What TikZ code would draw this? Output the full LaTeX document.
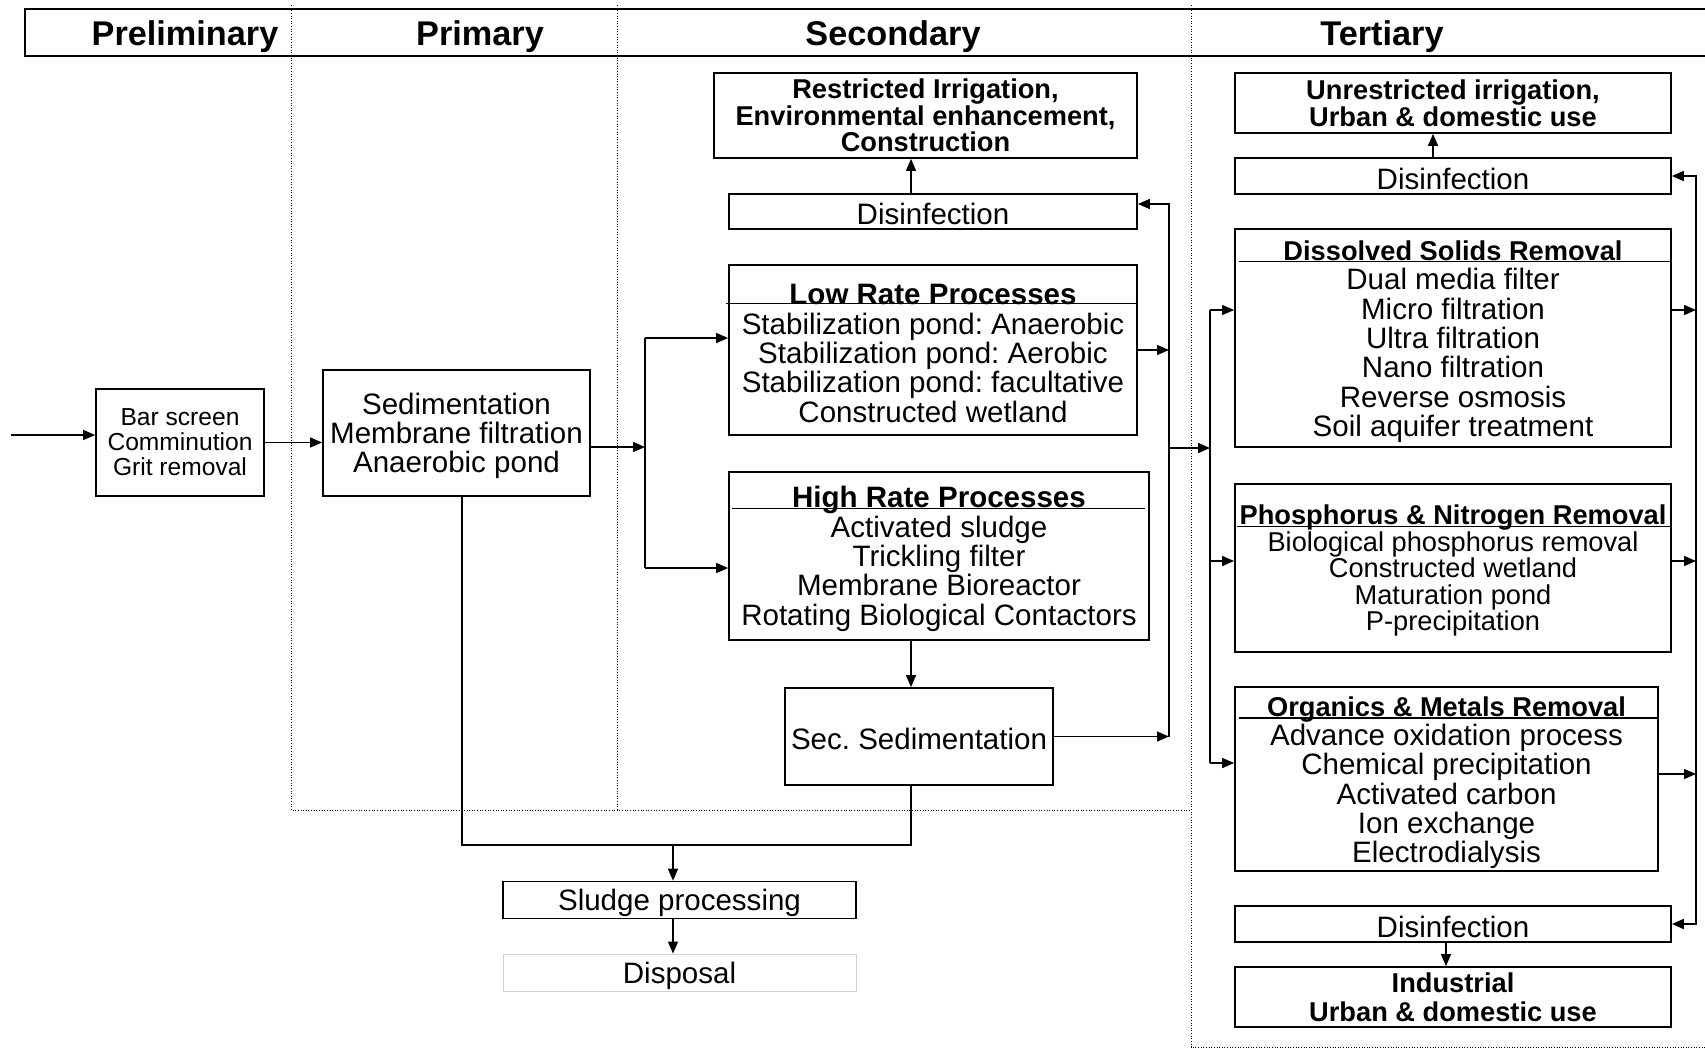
\documentclass[tikz,border=0pt]{standalone}
\usepackage{fontspec}
\setmainfont{Liberation Sans}
\usetikzlibrary{arrows.meta,calc}

\newcommand{\subhead}[1]{{\bfseries\fontsize{15.5}{15.1}\selectfont #1}}
\newcommand{\toppad}{\rule{0pt}{0.92em}}

\begin{document}
\frenchspacing
\begin{tikzpicture}[
  font=\fontsize{16.8}{16.7}\selectfont,
  stagebox/.style={draw, line width=1pt, inner sep=1pt, align=center, execute at begin node=\toppad},
  usebox/.style={stagebox, font=\bfseries\fontsize{15.5}{15.1}\selectfont},
  smallbox/.style={stagebox, font=\fontsize{14}{14.2}\selectfont},
  headlab/.style={font=\bfseries\fontsize{19.5}{20}\selectfont, execute at begin node=\toppad},
  link/.style={line width=0.8pt},
  arr/.style={link, -{Triangle[length=0.24cm,width=0.2cm]}},
  twoway/.style={line width=1pt, {Triangle[length=0.24cm,width=0.2cm]}-{Triangle[length=0.24cm,width=0.2cm]}},
  divider/.style={densely dotted, line width=0.5pt}
]
\useasboundingbox (0,0) rectangle (34.1,-20.98);

% stage header
\draw[line width=1pt] (34.1,-0.18) -- (0.5,-0.18) -- (0.5,-1.12) -- (34.1,-1.12);
\node[headlab] (hpre) at (3.7,-0.66) {Preliminary};
\node[headlab] (hpri) at (9.6,-0.66) {Primary};
\node[headlab] (hsec) at (17.86,-0.66) {Secondary};
\node[headlab] (hter) at (27.64,-0.66) {Tertiary};

\draw[divider] (5.82,-0.1) -- (5.82,-16.2) -- (23.82,-16.2);
\draw[divider] (12.34,-0.1) -- (12.34,-16.2);
\draw[divider] (23.82,-0.1) -- (23.82,-20.94) -- (34.1,-20.94);

% preliminary and primary
\node[smallbox, minimum width=3.36cm, minimum height=2.14cm] (bar) at (3.6,-8.85) {Bar screen\\Comminution\\Grit removal};
\node[stagebox, minimum width=5.34cm, minimum height=2.52cm] (prim) at (9.13,-8.66) {\toppad Sedimentation\\Membrane filtration\\Anaerobic pond};

% secondary
\node[usebox, minimum width=8.46cm, minimum height=1.7cm] (rest) at (18.51,-2.31) {Restricted Irrigation,\\Environmental enhancement,\\Construction};
\node[stagebox, minimum width=8.16cm, minimum height=0.7cm] (dis2) at (18.66,-4.23) {Disinfection};
\node[stagebox, minimum width=8.16cm, minimum height=3.4cm] (low) at (18.66,-7.0) {\toppad\textbf{Low Rate Processes}\\Stabilization pond: Anaerobic\\Stabilization pond: Aerobic\\Stabilization pond: facultative\\Constructed wetland};
\node[stagebox, minimum width=8.4cm, minimum height=3.36cm] (high) at (18.78,-11.12) {\toppad\textbf{High Rate Processes}\\Activated sludge\\Trickling filter\\Membrane Bioreactor\\Rotating Biological Contactors};
\node[stagebox, minimum width=5.36cm, minimum height=1.94cm] (sec) at (18.38,-14.73) {Sec. Sedimentation};
\node[stagebox, minimum width=7.06cm, minimum height=0.72cm] (sludge) at (13.59,-18.0) {Sludge processing};
\node[stagebox, draw=gray!35, line width=0.5pt, minimum width=7.06cm, minimum height=0.74cm] (disp) at (13.59,-19.45) {Disposal};

% tertiary
\node[usebox, minimum width=8.72cm, minimum height=1.2cm] (unres) at (29.06,-2.06) {Unrestricted irrigation,\\Urban \& domestic use};
\node[stagebox, minimum width=8.72cm, minimum height=0.72cm] (dis3t) at (29.06,-3.52) {Disinfection};
\node[stagebox, minimum width=8.72cm, minimum height=4.36cm] (dsr) at (29.06,-6.76) {\toppad\subhead{Dissolved Solids Removal}\\Dual media filter\\Micro filtration\\Ultra filtration\\Nano filtration\\Reverse osmosis\\Soil aquifer treatment};
\node[stagebox, font=\fontsize{15.5}{15.1}\selectfont, minimum width=8.72cm, minimum height=3.36cm] (pnr) at (29.06,-11.36) {\toppad\textbf{Phosphorus \& Nitrogen Removal}\\Biological phosphorus removal\\Constructed wetland\\Maturation pond\\P-precipitation};
\node[stagebox, minimum width=8.46cm, minimum height=3.64cm] (omr) at (28.93,-15.58) {\toppad\subhead{Organics \& Metals Removal}\\Advance oxidation process\\Chemical precipitation\\Activated carbon\\Ion exchange\\Electrodialysis};
\node[stagebox, minimum width=8.72cm, minimum height=0.72cm] (dis3b) at (29.06,-18.48) {Disinfection};
\node[usebox, font=\bfseries\fontsize{15.5}{16.5}\selectfont, minimum width=8.72cm, minimum height=1.2cm] (ind) at (29.06,-19.94) {Industrial\\Urban \& domestic use};

% title rules
\draw[link] ($(low.north west)+(-0.04,-0.79)$) -- ($(low.north east)+(0,-0.79)$);
\draw[link] ($(high.north west)+(0.08,-0.75)$) -- ($(high.north east)+(-0.1,-0.75)$);
\draw[link] ($(dsr.north west)+(0.1,-0.67)$) -- ($(dsr.north east)+(0,-0.67)$);
\draw[link] ($(pnr.north west)+(0.06,-0.87)$) -- ($(pnr.north east)+(0,-0.87)$);
\draw[link] ($(omr.north west)+(0.1,-0.63)$) -- ($(omr.north east)+(0,-0.63)$);

% flow up to secondary
\coordinate (in) at (0.22,-8.7);
\draw[arr] (in) -- (in -| bar.west);
\draw[arr] (bar.east) -- (bar.east -| prim.west);
\coordinate (split) at (12.9,-8.94);
\draw[arr] (split -| prim.east) -- (split);
\coordinate (s1) at (12.9,-6.76);
\coordinate (s2) at (12.9,-11.36);
\draw[link] (s1) -- (s2);
\draw[arr] (s1) -- (s1 -| low.west);
\draw[arr] (s2) -- (s2 -| high.west);

% secondary collector
\coordinate (c2) at (23.38,-4.08);
\draw[arr] (low.east) -- (low.east -| c2);
\draw[arr] (sec.east) -- (sec.east -| c2);
\draw[arr] (c2 |- sec.east) -- (c2) -- (c2 -| dis2.east);
\coordinate (sj) at (18.22,-16.9);
\draw[arr] (sj |- dis2.north) -- (sj |- rest.south);
\draw[arr] (sj |- high.south) -- (sj |- sec.north);

% sludge line
\coordinate (pj) at (9.24,-16.9);
\draw[link] (pj |- prim.south) -- (pj) -- (sj) -- (sj |- sec.south);
\coordinate (sl) at (13.46,-16.9);
\draw[arr] (sl) -- (sl |- sludge.north);
\draw[arr] (sl |- sludge.south) -- (sl |- disp.north);

% tertiary distribution
\coordinate (t1) at (24.2,-8.96);
\draw[arr] (c2 |- t1) -- (t1);
\coordinate (d1) at (24.2,-6.2);
\coordinate (d2) at (24.2,-11.22);
\coordinate (d3) at (24.2,-15.26);
\draw[link] (d1) -- (d3);
\draw[arr] (d1) -- (d1 -| dsr.west);
\draw[arr] (d2) -- (d2 -| pnr.west);
\draw[arr] (d3) -- (d3 -| omr.west);

% tertiary collector
\coordinate (c3) at (33.92,-10);
\coordinate (o3) at (33.92,-15.48);
\draw[arr] (d1 -| dsr.east) -- (d1 -| c3);
\draw[arr] (d2 -| pnr.east) -- (d2 -| c3);
\draw[arr] (o3 -| omr.east) -- (o3);
\draw[twoway] (dis3t.east) -| (c3) |- (dis3b.east);
\draw[arr] ([xshift=-0.4cm]dis3t.north) -- ([xshift=-0.4cm]unres.south);
\draw[arr] ([xshift=-0.14cm]dis3b.south) -- ([xshift=-0.14cm]ind.north);
\end{tikzpicture}
\end{document}
